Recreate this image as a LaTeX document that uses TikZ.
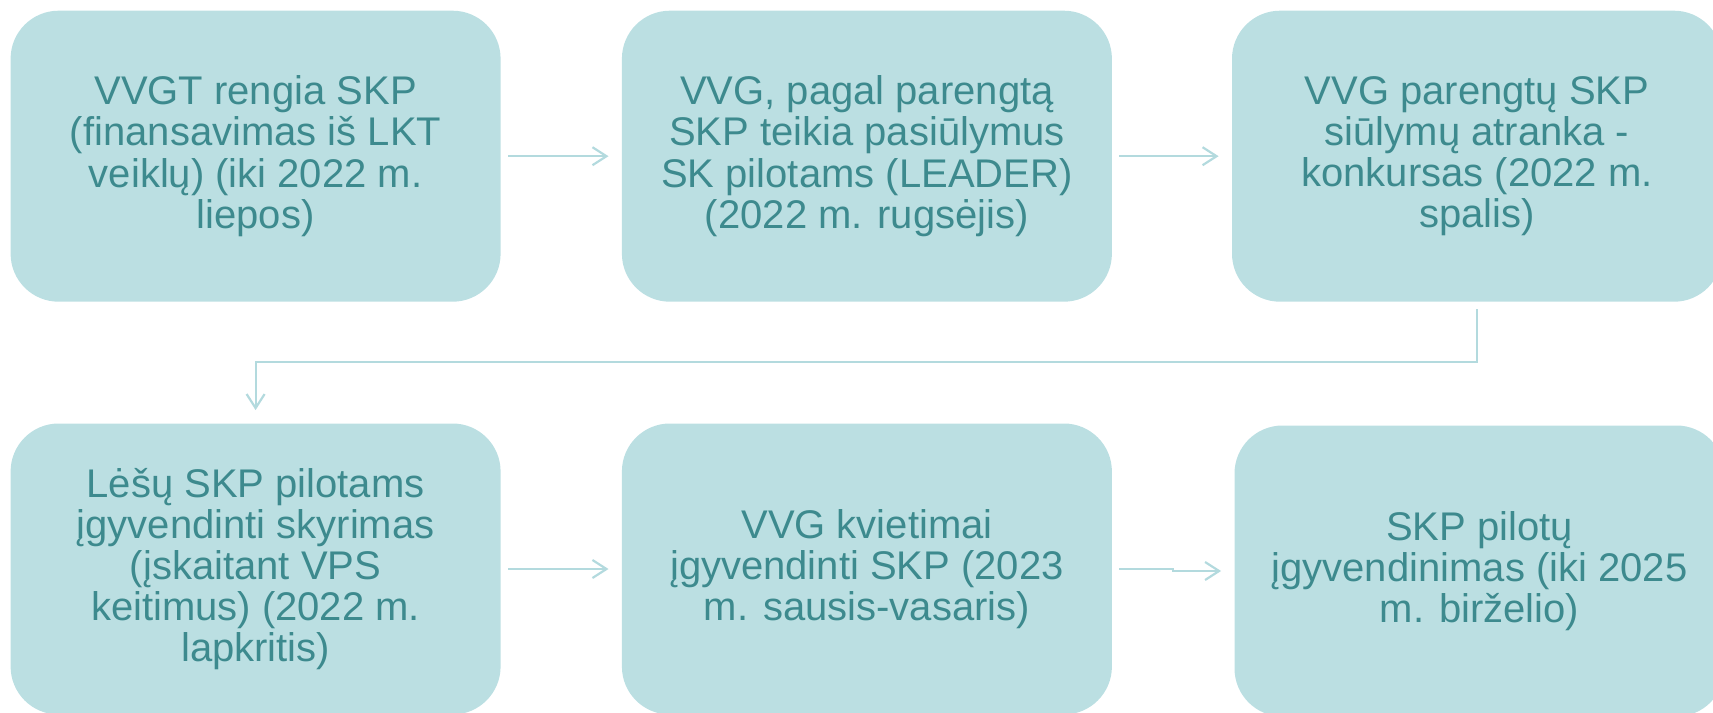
\documentclass[tikz,border=0pt]{standalone}
\usepackage{fontspec}
\setmainfont{Liberation Sans}
\usetikzlibrary{arrows.meta,calc}
\definecolor{boxfill}{HTML}{BBDFE2}
\definecolor{boxtext}{HTML}{3D8A8E}
\definecolor{arrcol}{HTML}{B3DADE}
\begin{document}
\begin{tikzpicture}[x=0.5pt,y=-0.5pt,
  stepbox/.style={fill=boxfill, draw=none, rounded corners=24pt,
    minimum width=245pt, minimum height=145.5pt, inner sep=0pt,
    align=center, text=boxtext, font=\fontsize{20}{20.6}\selectfont},
  arr/.style={draw=arrcol, line width=1.1pt,
    -{Straight Barb[length=7pt,width=9pt,line width=1.1pt]},
    shorten <=3.5pt, shorten >=6.5pt}]
\useasboundingbox (0,0) rectangle (1713,712);
\clip (0,0) rectangle (1713,712);
\node[stepbox] (b1) at (255.6,156.2) {VVGT rengia SKP\\(finansavimas iš LKT\\veiklų) (iki 2022 m.\\liepos)};
\node[stepbox] (b2) at (866.9,156.2) {VVG, pagal parengtą\\SKP teikia pasiūlymus\\SK pilotams (LEADER)\\(2022 m. rugsėjis)};
\node[stepbox] (b3) at (1477,156.2) {VVG parengtų SKP\\siūlymų atranka -\\konkursas (2022 m.\\spalis)};
\node[stepbox] (b4) at (255.6,569) {Lėšų SKP pilotams\\įgyvendinti skyrimas\\(įskaitant VPS\\keitimus) (2022 m.\\lapkritis)};
\node[stepbox] (b5) at (866.9,569) {VVG kvietimai\\įgyvendinti SKP (2023\\m. sausis-vasaris)};
\node[stepbox] (b6) at (1479.5,571) {SKP pilotų\\įgyvendinimas (iki 2025\\m. birželio)};
\draw[arr] (b1) -- (b2);
\draw[arr] (b2) -- (b3);
\draw[arr] (b4) -- (b5);
\coordinate (m56) at ($(b5.east)!0.5!(b6.west)$);
\draw[arr] (b5.east) -- (b5.east -| m56) -- (b6.west -| m56) -- (b6.west);
\coordinate (c1) at (1477,361.6);
\draw[arr] (b3.south) -- (b3.south |- c1) -| (b4.north);
\end{tikzpicture}
\end{document}
